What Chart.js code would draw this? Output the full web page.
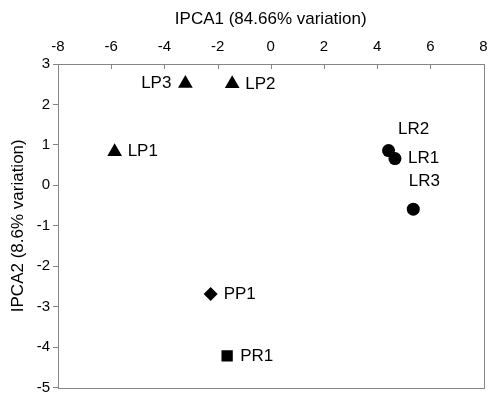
<!DOCTYPE html>
<html>
<head>
<meta charset="utf-8">
<script src="https://cdn.jsdelivr.net/npm/chart.js@4"></script>
<style>
  body { margin: 0; background: #fff; }
  canvas { display: block; }
</style>
</head>
<body>
<canvas id="pca" width="492" height="396"></canvas>
<script>
// sample scores
const samples = ['LP1', 'LP2', 'LP3', 'LR1', 'LR2', 'LR3', 'PP1', 'PR1'];
const groups = ['LP', 'LP', 'LP', 'LR', 'LR', 'LR', 'PP', 'PR'];
const pca1 = [-5.87, -1.45, -3.21, 4.67, 4.43, 5.36, -2.26, -1.64];
const pca2 = [0.83, 2.51, 2.52, 0.66, 0.86, -0.59, -2.69, -4.22];

const xRange = [-8, 8];
const yRange = [-5, 3];
const xTitle = 'IPCA1 (84.66% variation)';
const yTitle = 'IPCA2 (8.6% variation)';

// where each label sits relative to its marker
const labelPlace = {
  LP1: 'right', LP2: 'right', LP3: 'left',
  LR1: 'right', LR2: 'aboveFar', LR3: 'aboveHigh',
  PP1: 'right', PR1: 'right'
};

const shapes = {
  LP: { pointStyle: 'triangle', radius: 8.5 },
  LR: { pointStyle: 'circle', radius: 6.5 },
  PP: { pointStyle: 'rectRot', radius: 7 },
  PR: { pointStyle: 'rect', radius: 8 }
};

const font = 'Liberation Sans, Arial, Helvetica, sans-serif';
const frameColor = '#858585';

const datasets = Object.keys(shapes).map(g => {
  const pts = [];
  samples.forEach((s, i) => {
    if (groups[i] === g) pts.push({ x: pca1[i], y: pca2[i], name: s });
  });
  return {
    label: g,
    data: pts,
    pointStyle: shapes[g].pointStyle,
    pointRadius: shapes[g].radius,
    pointHoverRadius: shapes[g].radius,
    pointBorderWidth: 0,
    backgroundColor: '#000',
    borderColor: '#000'
  };
});

const framePlugin = {
  id: 'frame',
  beforeDatasetsDraw(chart) {
    const { ctx, chartArea: a, scales } = chart;
    ctx.save();
    ctx.strokeStyle = frameColor;
    ctx.lineWidth = 1;
    ctx.strokeRect(Math.round(a.left) + 0.5, Math.round(a.top) + 0.5,
      Math.round(a.right - a.left), Math.round(a.bottom - a.top));
    // x ticks point inward from the top axis
    ctx.beginPath();
    scales.x.ticks.forEach(t => {
      const px = Math.round(scales.x.getPixelForValue(t.value)) + 0.5;
      ctx.moveTo(px, a.top);
      ctx.lineTo(px, a.top + 5);
    });
    ctx.stroke();
    ctx.restore();
  }
};

const labelPlugin = {
  id: 'pointLabels',
  afterDatasetsDraw(chart) {
    const { ctx } = chart;
    ctx.save();
    ctx.fillStyle = '#000';
    ctx.font = '17px ' + font;
    ctx.textBaseline = 'middle';
    chart.data.datasets.forEach((ds, di) => {
      chart.getDatasetMeta(di).data.forEach((el, i) => {
        const name = ds.data[i].name;
        const place = labelPlace[name];
        let x = el.x, y = el.y;
        if (place === 'left') { ctx.textAlign = 'right'; x -= 14; }
        else if (place === 'aboveFar') { ctx.textAlign = 'center'; x += 25; y -= 21; }
        else if (place === 'aboveHigh') { ctx.textAlign = 'center'; x += 11; y -= 28; }
        else { ctx.textAlign = 'left'; x += 13; }
        ctx.fillText(name, x, y);
      });
    });
    ctx.restore();
  }
};

new Chart(document.getElementById('pca'), {
  type: 'scatter',
  data: { datasets: datasets },
  options: {
    responsive: false,
    animation: false,
    layout: { padding: { top: 0, right: 4, bottom: 7, left: 0 } },
    plugins: {
      legend: { display: false },
      tooltip: { enabled: false }
    },
    scales: {
      x: {
        type: 'linear',
        position: 'top',
        min: xRange[0],
        max: xRange[1],
        afterFit(scale) {
          scale.height = 64;
          scale.paddingLeft = 0;
          scale.paddingRight = 0;
        },
        ticks: { stepSize: 2, color: '#000', font: { family: font, size: 15 }, padding: 8 },
        grid: { drawOnChartArea: false, drawTicks: false },
        border: { display: false },
        title: {
          display: true,
          text: xTitle,
          color: '#000',
          font: { family: font, size: 17 },
          padding: { top: 9, bottom: 0 }
        }
      },
      y: {
        type: 'linear',
        position: 'left',
        min: yRange[0],
        max: yRange[1],
        afterFit(scale) {
          scale.width = 58;
          scale.paddingTop = 0;
          scale.paddingBottom = 0;
        },
        ticks: { stepSize: 1, color: '#000', font: { family: font, size: 15 }, padding: 3 },
        grid: { drawOnChartArea: false, drawTicks: true, tickLength: 5, color: frameColor },
        border: { display: false },
        title: {
          display: true,
          text: yTitle,
          color: '#000',
          font: { family: font, size: 17 },
          padding: { top: 8, bottom: 0 }
        }
      }
    }
  },
  plugins: [framePlugin, labelPlugin]
});
</script>
</body>
</html>
